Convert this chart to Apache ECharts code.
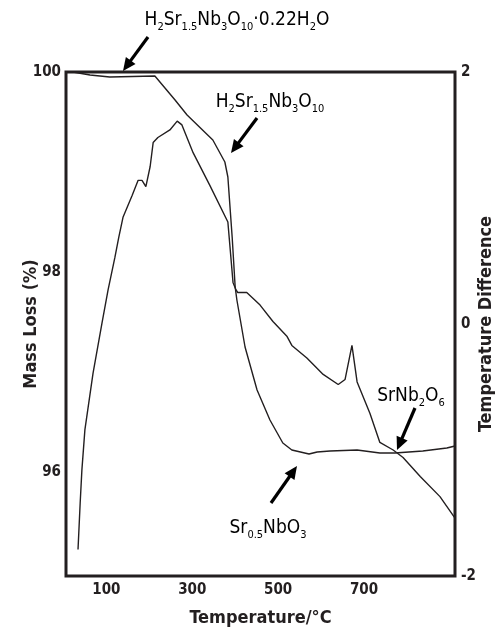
<!DOCTYPE html>
<html><head><meta charset="utf-8">
<script src="https://cdn.jsdelivr.net/npm/echarts@6/dist/echarts.min.js"></script>
<style>html,body{margin:0;padding:0;background:#fff}#c{width:497px;height:633px}</style>
</head><body><div id="c"></div>
<script>
// Data (temperature °C, mass %)
const tgTemp = [22, 62, 108, 213, 260, 288, 348, 376, 383, 393, 400, 404, 423, 451, 481, 511, 532, 572, 591, 621, 684, 737, 772, 837, 893, 912];
const tgMass = [100.0, 99.97, 99.95, 99.96, 99.72, 99.57, 99.32, 99.10, 98.95, 98.35, 97.85, 97.72, 97.25, 96.82, 96.52, 96.29, 96.22, 96.18, 96.20, 96.21, 96.22, 96.19, 96.19, 96.21, 96.24, 96.26];
// DTA (temperature °C, temperature difference)
const dtaTemp = [34, 39, 43, 50, 69, 90, 104, 120, 129, 139, 160, 174, 183, 192, 202, 209, 220, 248, 265, 276, 302, 341, 383, 395, 402, 406, 427, 458, 488, 521, 532, 567, 605, 640, 656, 672, 684, 714, 737, 768, 791, 831, 877, 912];
const dtaDiff = [-1.79, -1.42, -1.16, -0.84, -0.39, 0.01, 0.27, 0.53, 0.69, 0.85, 1.02, 1.14, 1.14, 1.09, 1.25, 1.44, 1.48, 1.54, 1.61, 1.58, 1.36, 1.10, 0.81, 0.33, 0.27, 0.25, 0.25, 0.15, 0.02, -0.10, -0.17, -0.27, -0.40, -0.48, -0.44, -0.17, -0.46, -0.71, -0.94, -1.00, -1.06, -1.21, -1.37, -1.54];
const xTicks = [100, 300, 500, 700];
const leftTicks = [96, 98, 100];
const rightTicks = [-2, 0, 2];

const FONT = '"DejaVu Sans Condensed", "Liberation Sans Narrow", "Liberation Sans", Arial, sans-serif';
const INK = '#231f20';

function arrow(x1, y1, x2, y2) {
  const dx = x2 - x1, dy = y2 - y1, L = Math.hypot(dx, dy);
  const ux = dx / L, uy = dy / L, hl = 13, hw = 6;
  const bx = x2 - ux * hl, by = y2 - uy * hl;
  return [
    {type: 'line', shape: {x1: x1, y1: y1, x2: bx + ux * 2, y2: by + uy * 2}, style: {stroke: '#000', lineWidth: 3.2}},
    {type: 'polygon', shape: {points: [[x2, y2], [bx - uy * hw, by + ux * hw], [bx + uy * hw, by - ux * hw]]}, style: {fill: '#000'}}
  ];
}
const rich = {
  n: {fontSize: 19, fontFamily: FONT, color: INK, verticalAlign: 'top', lineHeight: 22, padding: [0, 0, 4, 0]},
  s: {fontSize: 11, fontFamily: FONT, color: INK, verticalAlign: 'bottom', lineHeight: 12}
};
function label(x, y, txt) {
  return {type: 'text', x: x, y: y, style: {text: txt, rich: rich, align: 'center', verticalAlign: 'middle', font: '19px ' + FONT}};
}

const chart = echarts.init(document.getElementById('c'));
const tgData = tgTemp.map((t, i) => [t, tgMass[i]]);
const dtaData = dtaTemp.map((t, i) => [t, dtaDiff[i]]);
const axisLabelStyle = {fontFamily: FONT, fontWeight: 'bold', fontSize: 15, color: INK};
const nameStyle = {fontFamily: FONT, fontWeight: 'bold', fontSize: 18, color: INK};
chart.setOption({
  animation: false,
  grid: {left: 66, right: 42, top: 72, bottom: 57, outerBoundsMode: 'none', containLabel: false, show: true, borderColor: INK, borderWidth: 3, backgroundColor: 'transparent'},
  xAxis: {
    type: 'value', min: 6, max: 912,
    name: 'Temperature/°C', nameLocation: 'middle', nameGap: 33, nameMoveOverlap: false,
    nameTextStyle: nameStyle,
    axisLine: {show: false}, axisTick: {show: false}, splitLine: {show: false},
    axisLabel: Object.assign({customValues: xTicks, margin: 7}, axisLabelStyle)
  },
  yAxis: [{
    type: 'value', min: 94.96, max: 100,
    name: 'Mass Loss (%)', nameLocation: 'middle', nameGap: 26, nameRotate: 90, nameMoveOverlap: false,
    nameTextStyle: nameStyle,
    axisLine: {show: false}, axisTick: {show: false}, splitLine: {show: false},
    axisLabel: Object.assign({customValues: leftTicks, margin: 5}, axisLabelStyle)
  }, {
    type: 'value', min: -2, max: 2, interval: 2, position: 'right',
    name: 'Temperature Difference', nameLocation: 'middle', nameGap: 22, nameRotate: 90, nameMoveOverlap: false,
    nameTextStyle: nameStyle,
    axisLine: {show: false}, axisTick: {show: false}, splitLine: {show: false},
    axisLabel: Object.assign({customValues: rightTicks, margin: 6}, axisLabelStyle)
  }],
  series: [
    {type: 'line', yAxisIndex: 0, data: tgData, symbol: 'none', lineStyle: {color: INK, width: 1.4}},
    {type: 'line', yAxisIndex: 1, data: dtaData, symbol: 'none', lineStyle: {color: INK, width: 1.4}}
  ],
  graphic: [].concat(
    arrow(148, 37, 123, 71),
    arrow(257, 118, 231, 153),
    arrow(271, 503, 297, 466),
    arrow(415, 408, 397, 450),
    [
      label(237, 22, '{n|H}{s|2}{n|Sr}{s|1.5}{n|Nb}{s|3}{n|O}{s|10}{n|·0.22H}{s|2}{n|O}'),
      label(270, 104, '{n|H}{s|2}{n|Sr}{s|1.5}{n|Nb}{s|3}{n|O}{s|10}'),
      label(268, 530, '{n|Sr}{s|0.5}{n|NbO}{s|3}'),
      label(411, 398, '{n|SrNb}{s|2}{n|O}{s|6}')
    ]
  )
});
</script></body></html>
